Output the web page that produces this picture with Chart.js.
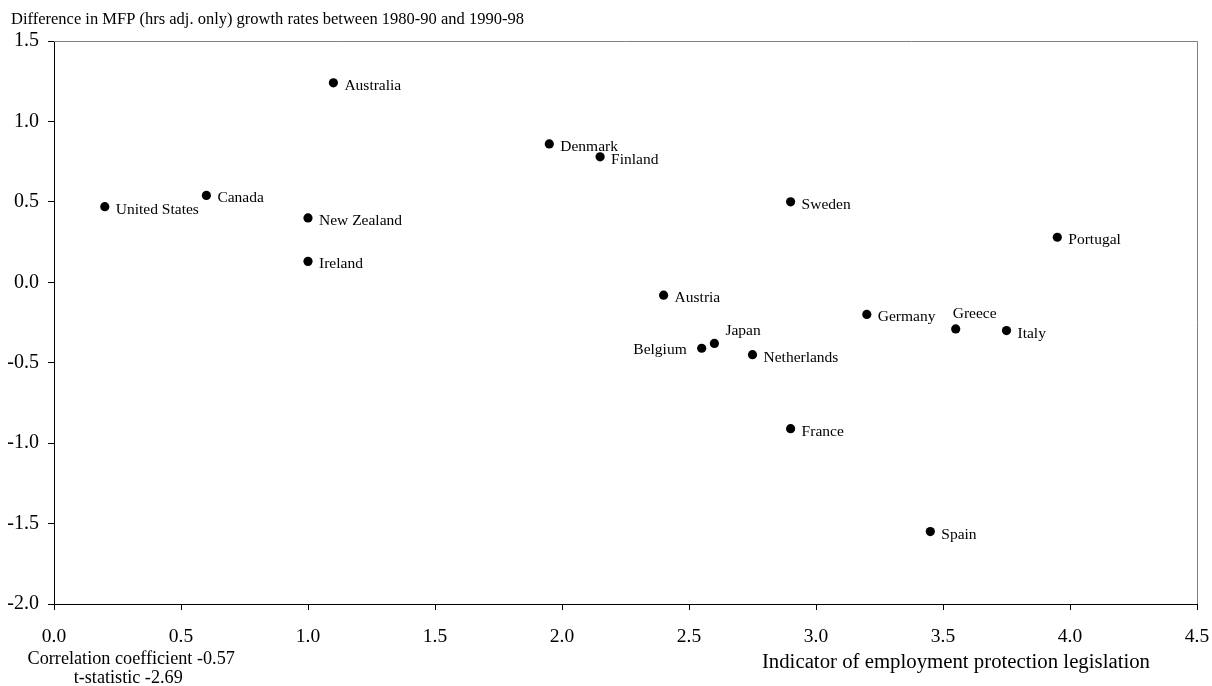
<!DOCTYPE html>
<html>
<head>
<meta charset="utf-8">
<script src="https://cdn.jsdelivr.net/npm/chart.js@4.4.1/dist/chart.umd.min.js"></script>
<style>
  html, body { margin: 0; padding: 0; background: #ffffff; }
  #wrap { width: 1212px; height: 686px; }
</style>
</head>
<body>
<div id="wrap"><canvas id="c" width="1212" height="686"></canvas></div>
<script>
// ---- Data ----
const countries = ["United States", "Canada", "New Zealand", "Ireland", "Australia",
  "Denmark", "Finland", "Austria", "Belgium", "Japan", "Netherlands", "Sweden",
  "France", "Germany", "Spain", "Greece", "Italy", "Portugal"];
const eplIndicator = [0.20, 0.60, 1.00, 1.00, 1.10,
  1.95, 2.15, 2.40, 2.55, 2.60, 2.75, 2.90,
  2.90, 3.20, 3.45, 3.55, 3.75, 3.95];
const mfpDifference = [0.47, 0.54, 0.40, 0.13, 1.24,
  0.86, 0.78, -0.08, -0.41, -0.38, -0.45, 0.50,
  -0.91, -0.20, -1.55, -0.29, -0.30, 0.28];
// label placement relative to the marker: r = right, l = left, ar = above right, a = above
const labelPlacement = ["r", "r", "r", "r", "r",
  "r", "r", "r", "l", "ar", "r", "r",
  "r", "r", "r", "a", "r", "r"];
const xTickValues = [0.0, 0.5, 1.0, 1.5, 2.0, 2.5, 3.0, 3.5, 4.0, 4.5];
const yTickValues = [-2.0, -1.5, -1.0, -0.5, 0.0, 0.5, 1.0, 1.5];
const chartTitle = "Difference in MFP (hrs adj. only) growth rates between 1980-90 and 1990-98";
const xAxisTitle = "Indicator of employment protection legislation";
const statLines = ["Correlation coefficient -0.57", "t-statistic -2.69"];

const SERIF = "'Liberation Serif', 'Times New Roman', Times, serif";

const points = eplIndicator.map((x, i) => ({ x: x, y: mfpDifference[i] }));

const annotPlugin = {
  id: 'annot',
  afterDraw(chart) {
    const ctx = chart.ctx;
    const a = chart.chartArea;
    ctx.save();
    // top & right frame
    ctx.strokeStyle = '#808080';
    ctx.lineWidth = 1;
    ctx.beginPath();
    ctx.moveTo(a.left, a.top + 0.5);
    ctx.lineTo(a.right + 0.5, a.top + 0.5);
    ctx.lineTo(a.right + 0.5, a.bottom);
    ctx.stroke();

    ctx.fillStyle = '#000';
    // chart title
    ctx.font = "16.5px " + SERIF;
    ctx.textAlign = 'left';
    ctx.textBaseline = 'alphabetic';
    ctx.fillText(chartTitle, 11, 24);

    // x-axis title
    ctx.font = "20.8px " + SERIF;
    ctx.textAlign = 'right';
    ctx.fillText(xAxisTitle, 1150, 668);

    // statistics
    ctx.font = "18.2px " + SERIF;
    ctx.textAlign = 'center';
    ctx.fillText(statLines[0], 131.2, 664);
    ctx.fillText(statLines[1], 128.2, 683);

    // point labels
    const meta = chart.getDatasetMeta(0);
    ctx.font = "15.5px " + SERIF;
    meta.data.forEach((el, i) => {
      const p = labelPlacement[i];
      let dx = 11, dy = 7, align = 'left';
      if (p === 'l') { dx = -15; dy = 6; align = 'right'; }
      else if (p === 'ar') { dx = 11; dy = -8; }
      else if (p === 'a') { dx = -3; dy = -11; }
      ctx.textAlign = align;
      ctx.fillText(countries[i], el.x + dx, el.y + dy);
    });
    ctx.restore();
  }
};

new Chart(document.getElementById('c'), {
  type: 'scatter',
  data: {
    datasets: [{
      data: points,
      backgroundColor: '#000',
      borderWidth: 0,
      pointRadius: 4.6,
      pointHoverRadius: 4.6
    }]
  },
  options: {
    responsive: false,
    animation: false,
    devicePixelRatio: 1,
    layout: { padding: { top: 41, right: 15, left: 0, bottom: 0 } },
    plugins: { legend: { display: false }, tooltip: { enabled: false }, title: { display: false } },
    scales: {
      x: {
        type: 'linear',
        min: xTickValues[0],
        max: xTickValues[xTickValues.length - 1],
        afterBuildTicks(scale) { scale.ticks = xTickValues.map(v => ({ value: v })); },
        afterFit(scale) { scale.height = 82; scale.paddingLeft = 0; scale.paddingRight = 0; },
        ticks: {
          color: '#000',
          font: { family: SERIF, size: 19.5 },
          padding: 15,
          maxRotation: 0,
          callback: v => Number(v).toFixed(1)
        },
        grid: { drawOnChartArea: false, drawTicks: true, tickLength: 6, color: '#000', lineWidth: 1 },
        border: { display: true, color: '#000', width: 1 }
      },
      y: {
        type: 'linear',
        min: yTickValues[0],
        max: yTickValues[yTickValues.length - 1],
        afterBuildTicks(scale) { scale.ticks = yTickValues.map(v => ({ value: v })); },
        afterFit(scale) { scale.width = 54; scale.paddingTop = 0; scale.paddingBottom = 0; },
        ticks: {
          color: '#000',
          font: { family: SERIF, size: 20 },
          padding: 9,
          callback: v => Number(v).toFixed(1)
        },
        grid: { drawOnChartArea: false, drawTicks: true, tickLength: 6, color: '#000', lineWidth: 1 },
        border: { display: true, color: '#000', width: 1 }
      }
    }
  },
  plugins: [annotPlugin]
});
</script>
</body>
</html>
